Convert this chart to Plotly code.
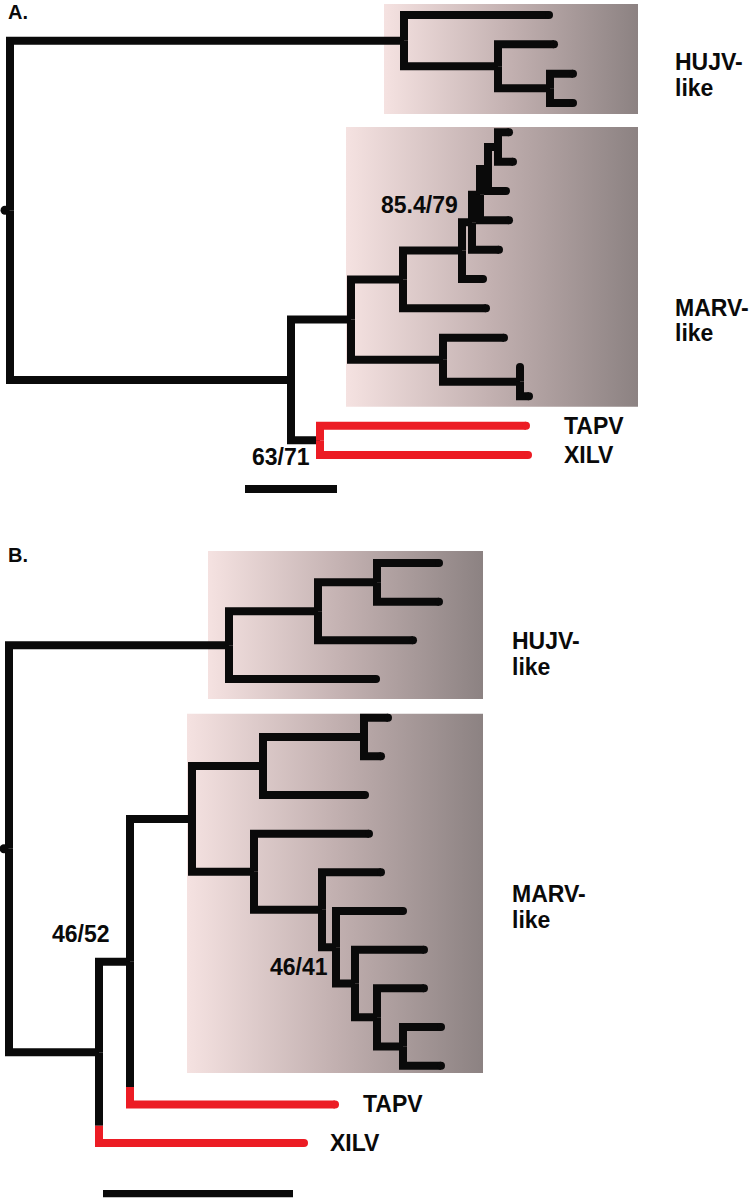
import plotly.graph_objects as go

# ================= DATA =================
# Panel A tree: node names, parent, depth (distance from root, arbitrary units)
A_NODES = ["root", "H", "h1", "H2", "h2", "H3", "h3", "h4",
           "B", "M", "N1", "N2", "N3", "N4", "N5", "N6", "m1", "m2", "m3", "m4", "m5", "m6", "m7",
           "L1", "m8", "L2", "m9", "m10", "T", "TAPV", "XILV"]
A_PARENTS = [None, "root", "H", "H", "H2", "H2", "H3", "H3",
             "root", "B", "M", "N1", "N2", "N3", "N4", "N5", "N6", "N6", "N5", "N4", "N3", "N2", "N1",
             "M", "L1", "L1", "L2", "L2", "B", "T", "T"]
A_DEPTH = [0, 394, 543, 488, 548, 540, 567, 567,
           281, 341, 393, 452, 462, 470, 478, 488, 503, 507, 500, 503, 493, 477, 480,
           433, 498, 510, 512, 523, 310, 520, 522]
A_RED = ["TAPV", "XILV"]

# Panel B tree
B_NODES = ["root", "H1", "H2", "H3", "h1", "h2", "h3", "h4",
           "P", "Q", "M", "U1", "U2", "m1", "m2", "m3", "L1", "m4", "L2", "m5", "L3", "m6",
           "L4", "m7", "L5", "m8", "L6", "m9", "m10", "TAPV", "XILV"]
B_PARENTS = [None, "root", "H1", "H2", "H3", "H3", "H2", "H1",
             "root", "P", "Q", "M", "U1", "U2", "U2", "U1", "M", "L1", "L1", "L2", "L2", "L3",
             "L3", "L4", "L4", "L5", "L5", "L6", "L6", "Q", "P"]
B_DEPTH = [0, 220, 309, 368, 434, 434, 408, 371,
           90, 121, 183, 254, 355, 383, 376, 360, 245, 364, 313, 376, 327, 398,
           346, 419, 368, 419, 394, 436, 436, 330, 299]
B_RED = ["TAPV", "XILV"]

# Shaded clade boxes (x in depth units, y in leaf-index units)
A_BOX_X0 = [374, 336]
A_BOX_X1 = [628, 628]
A_BOX_Y0 = [-0.375, 3.82]
A_BOX_Y1 = [3.375, 13.36]
B_BOX_X0 = [199, 178]
B_BOX_X1 = [474, 474]
B_BOX_Y0 = [-0.31, 3.90]
B_BOX_Y1 = [3.52, 13.19]

# Text labels
A_LABEL_TEXT = ["HUJV-", "like", "MARV-", "like", "TAPV", "XILV"]
A_LABEL_X = [663, 663, 663, 663, 552, 552]
A_LABEL_Y = [1.60, 2.49, 9.99, 10.84, 14.0, 15.0]
B_LABEL_TEXT = ["HUJV-", "like", "MARV-", "like", "TAPV", "XILV"]
B_LABEL_X = [501, 501, 501, 501, 352, 319]
B_LABEL_Y = [2.02, 2.69, 8.56, 9.23, 14.0, 15.0]

# Bootstrap / support values (right-aligned)
A_SUPPORT_TEXT = ["85.4/79", "63/71"]
A_SUPPORT_X = [450, 302]
A_SUPPORT_Y = [6.48, 15.07]
B_SUPPORT_TEXT = ["46/52", "46/41"]
B_SUPPORT_X = [103, 321]
B_SUPPORT_Y = [9.59, 10.46]

# Scale bars
A_SCALE_X = [235, 327]
A_SCALE_Y = 16.16
B_SCALE_X = [94, 284]
B_SCALE_Y = 16.32

PANEL_TAGS = ["A.", "B."]

# ================= STYLE / LAYOUT =================
W, H = 751, 1199
LINE_W = 8
CAP = 4
BLACK = "#0a0a0a"
RED = "#ec1c24"
FONT = "Liberation Sans, Arial, Helvetica, sans-serif"
GRAD = [[0, "#f5e2e1"], [0.5, "#c2b0b0"], [1, "#8c8282"]]

# pixel geometry of panels (leaf index -> pixel)
A_PX0, A_STEP, A_YR = 15.0, 29.33, (-0.5, 16.5)
B_PX0, B_STEP, B_YR = 563.0, 38.67, (-1.0, 16.4)
A_ROOT_PX, B_ROOT_PX = 10, 9


def tree_layout(nodes, parents, depth):
    children = {n: [] for n in nodes}
    root = None
    for n, p in zip(nodes, parents):
        if p is None:
            root = n
        else:
            children[p].append(n)
    x = dict(zip(nodes, depth))
    y = {}
    cnt = [0]

    def visit(n):
        if not children[n]:
            y[n] = cnt[0]
            cnt[0] += 1
        else:
            for c in children[n]:
                visit(c)
            y[n] = (y[children[n][0]] + y[children[n][-1]]) / 2
    visit(root)
    return root, children, x, y


def tree_traces(nodes, parents, depth, red, stub, xa, ya):
    root, children, x, y = tree_layout(nodes, parents, depth)
    bx, by, rx, ry = [], [], [], []
    tb, tr = ([], []), ([], [])
    for n, p in zip(nodes, parents):
        if p is None:
            continue
        leaf = not children[n]
        xe = max(x[n] - CAP, x[p]) if leaf else x[n]
        if n in red:
            d = y[n] - y[p]
            s = 1 if d > 0 else -1
            ymid = y[n] - s * min(stub, abs(d))
            if abs(ymid - y[p]) > 1e-9:
                bx += [x[p], x[p], None]
                by += [y[p], ymid, None]
            rx += [x[p], x[p], xe, None]
            ry += [ymid, y[n], y[n], None]
            if leaf:
                tr[0].append(xe); tr[1].append(y[n])
        else:
            bx += [x[p], x[p], xe, None]
            by += [y[p], y[n], y[n], None]
            if leaf:
                tb[0].append(xe); tb[1].append(y[n])
    traces = [
        go.Scatter(x=bx, y=by, mode="lines", line=dict(color=BLACK, width=LINE_W),
                   xaxis=xa, yaxis=ya, hoverinfo="skip"),
        go.Scatter(x=rx, y=ry, mode="lines", line=dict(color=RED, width=LINE_W),
                   xaxis=xa, yaxis=ya, hoverinfo="skip"),
        go.Scatter(x=tb[0], y=tb[1], mode="markers",
                   marker=dict(color=BLACK, size=LINE_W, line=dict(width=0)),
                   xaxis=xa, yaxis=ya, hoverinfo="skip"),
        go.Scatter(x=tr[0], y=tr[1], mode="markers",
                   marker=dict(color=RED, size=LINE_W, line=dict(width=0)),
                   xaxis=xa, yaxis=ya, hoverinfo="skip"),
        go.Scatter(x=[x[root] - 5], y=[y[root]], mode="markers",
                   marker=dict(color=BLACK, size=9, line=dict(width=0)),
                   xaxis=xa, yaxis=ya, hoverinfo="skip"),
    ]
    return traces


def box_traces(x0s, x1s, y0s, y1s, xa, ya):
    out = []
    for x0, x1, y0, y1 in zip(x0s, x1s, y0s, y1s):
        out.append(go.Scatter(
            x=[x0, x1, x1, x0, x0], y=[y0, y0, y1, y1, y0],
            mode="lines", line=dict(width=0, color="rgba(0,0,0,0)"),
            fill="toself",
            fillgradient=dict(type="horizontal", colorscale=GRAD),
            xaxis=xa, yaxis=ya, hoverinfo="skip"))
    return out


fig = go.Figure()
for t in box_traces(A_BOX_X0, A_BOX_X1, A_BOX_Y0, A_BOX_Y1, "x", "y"):
    fig.add_trace(t)
for t in box_traces(B_BOX_X0, B_BOX_X1, B_BOX_Y0, B_BOX_Y1, "x2", "y2"):
    fig.add_trace(t)
for t in tree_traces(A_NODES, A_PARENTS, A_DEPTH, A_RED, 0.5, "x", "y"):
    fig.add_trace(t)
for t in tree_traces(B_NODES, B_PARENTS, B_DEPTH, B_RED, 0.45, "x2", "y2"):
    fig.add_trace(t)

# scale bars
fig.add_trace(go.Scatter(x=A_SCALE_X, y=[A_SCALE_Y] * 2, mode="lines",
                         line=dict(color=BLACK, width=8), xaxis="x", yaxis="y", hoverinfo="skip"))
fig.add_trace(go.Scatter(x=B_SCALE_X, y=[B_SCALE_Y] * 2, mode="lines",
                         line=dict(color=BLACK, width=8), xaxis="x2", yaxis="y2", hoverinfo="skip"))

ann = []
tfont = dict(family=FONT, size=23, color=BLACK, weight="bold")
for txt, xx, yy in zip(A_LABEL_TEXT, A_LABEL_X, A_LABEL_Y):
    ann.append(dict(text=txt, x=xx, y=yy, xref="x", yref="y", xanchor="left",
                    yanchor="middle", showarrow=False, font=tfont))
for txt, xx, yy in zip(B_LABEL_TEXT, B_LABEL_X, B_LABEL_Y):
    ann.append(dict(text=txt, x=xx, y=yy, xref="x2", yref="y2", xanchor="left",
                    yanchor="middle", showarrow=False, font=tfont))
for txt, xx, yy in zip(A_SUPPORT_TEXT, A_SUPPORT_X, A_SUPPORT_Y):
    ann.append(dict(text=txt, x=xx, y=yy, xref="x", yref="y", xanchor="right",
                    yanchor="middle", showarrow=False, font=tfont))
for txt, xx, yy in zip(B_SUPPORT_TEXT, B_SUPPORT_X, B_SUPPORT_Y):
    ann.append(dict(text=txt, x=xx, y=yy, xref="x2", yref="y2", xanchor="right",
                    yanchor="middle", showarrow=False, font=tfont))
# panel tags
for txt, ypx in zip(PANEL_TAGS, [12, 555]):
    ann.append(dict(text=txt, x=6 / W, y=1 - ypx / H, xref="paper", yref="paper",
                    xanchor="left", yanchor="middle", showarrow=False,
                    font=dict(family=FONT, size=20, color=BLACK, weight="bold")))


def ydomain(px0, step, yr):
    top = px0 + yr[0] * step
    bot = px0 + yr[1] * step
    return [1 - bot / H, 1 - top / H]


axis_off = dict(visible=False, showgrid=False, zeroline=False, fixedrange=True)
fig.update_layout(
    width=W, height=H,
    margin=dict(l=0, r=0, t=0, b=0),
    paper_bgcolor="white", plot_bgcolor="rgba(0,0,0,0)",
    showlegend=False, hovermode=False,
    annotations=ann,
    xaxis=dict(domain=[0, 1], range=[-A_ROOT_PX, W - A_ROOT_PX], **axis_off),
    yaxis=dict(domain=ydomain(A_PX0, A_STEP, A_YR), range=[A_YR[1], A_YR[0]], **axis_off),
    xaxis2=dict(domain=[0, 1], range=[-B_ROOT_PX, W - B_ROOT_PX], anchor="y2", **axis_off),
    yaxis2=dict(domain=ydomain(B_PX0, B_STEP, B_YR), range=[B_YR[1], B_YR[0]], anchor="x2",
                **axis_off),
)

fig.write_html(
    "out.html",
    config={"displayModeBar": False},
    post_script="document.body.style.margin='0';document.body.style.overflow='hidden';",
)
